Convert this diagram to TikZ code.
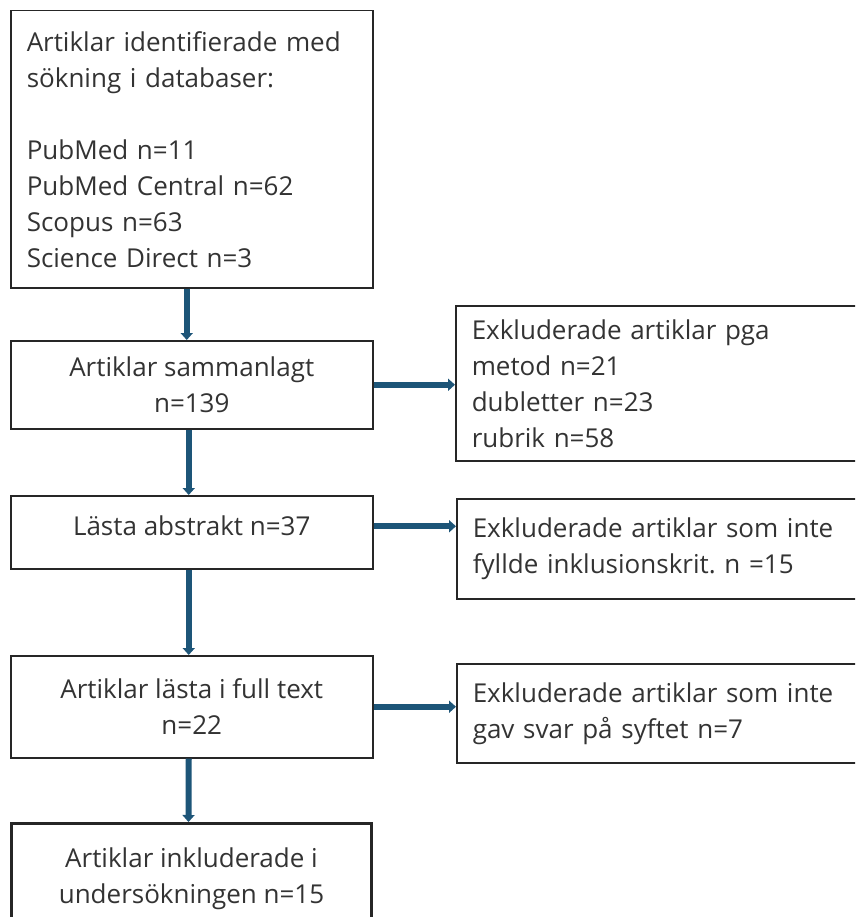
\documentclass[tikz,border=0pt]{standalone}
\usepackage{fontspec}
\setmainfont{Open Sans}
\usetikzlibrary{arrows.meta,positioning}
\definecolor{pilblue}{HTML}{1D5578}
\tikzset{
	ruta/.style={draw=black!85, line width=1.5pt, anchor=north west, inner sep=0pt,
		text=black!80, font=\fontsize{26}{36}\selectfont},
	pil/.style={draw=pilblue, line width=6pt, -{Triangle[width=12pt,length=7pt]}},
}
\frenchspacing
\begin{document}
\begin{tikzpicture}[x=1pt,y=-1pt]
	\useasboundingbox (0,0) rectangle (855,917);
	\clip (0,0) rectangle (855,917);

	\node[ruta, minimum width=362, minimum height=277, text width=330, align=left] (b1) at (10,10)
		{Artiklar identifierade med\\ sökning i databaser:\\[36pt] PubMed n=11\\ PubMed Central n=62\\ Scopus n=63\\ Science Direct n=3};
	\node[ruta, minimum width=362, minimum height=88, align=center] (b2) at (10,340)
		{Artiklar sammanlagt\\ n=139};
	\node[ruta, minimum width=362, minimum height=73, text height=24pt, text depth=18pt] (b3) at (10,495)
		{Lästa abstrakt n=37};
	\node[ruta, minimum width=362, minimum height=102, align=center] (b4) at (10,655)
		{Artiklar lästa i full text\\ n=22};
	\node[ruta, line width=3pt, minimum width=360, minimum height=110, align=center] (b5) at (10,822)
		{Artiklar inkluderade i\\ undersökningen n=15};

	\node[ruta, minimum width=404, minimum height=155, text width=372, align=left] (r1) at (455,305)
		{Exkluderade artiklar pga\\ metod n=21\\ dubletter n=23\\ rubrik n=58};
	\node[ruta, minimum width=404, minimum height=100, text width=372, align=left] (r2) at (456,498)
		{Exkluderade artiklar som inte\\ fyllde inklusionskrit. n =15};
	\node[ruta, minimum width=404, minimum height=99, text width=372, align=left] (r3) at (456,663)
		{Exkluderade artiklar som inte\\ gav svar på syftet n=7};

	\draw[pil] ([xshift=-5pt]b1.south) -- ([xshift=-5pt]b2.north);
	\draw[pil] ([xshift=-3pt]b2.south) -- ([xshift=-3pt]b3.north);
	\draw[pil] ([xshift=-3pt]b3.south) -- ([xshift=-3pt]b4.north);
	\draw[pil] ([xshift=-3pt]b4.south) -- ([xshift=-3pt]b5.north);

	\draw[pil] (b2.east) -- (b2.east -| r1.west);
	\draw[pil] ([yshift=6pt]b3.east) -- ([yshift=6pt]b3.east -| r2.west);
	\draw[pil] (b4.east) -- (b4.east -| r3.west);
\end{tikzpicture}
\end{document}
